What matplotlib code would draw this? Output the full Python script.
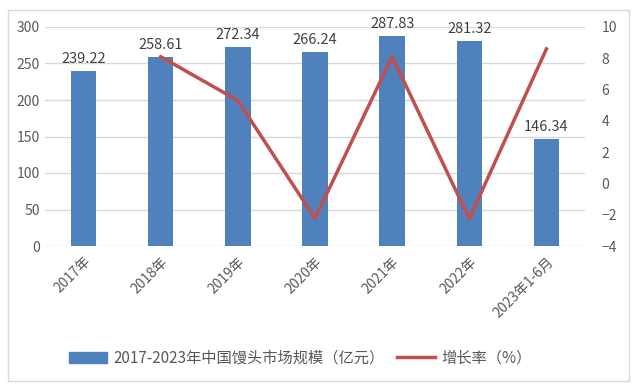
import numpy as np
import matplotlib.pyplot as plt
from matplotlib.patches import Rectangle
from matplotlib.lines import Line2D

plt.rcParams['font.family'] = ['Noto Sans CJK SC', 'DejaVu Sans']

years = ['2017年', '2018年', '2019年', '2020年', '2021年', '2022年', '2023年1-6月']
scale = [239.22, 258.61, 272.34, 266.24, 287.83, 281.32, 146.34]
growth = [np.nan, 8.1, 5.3, -2.24, 8.11, -2.26, 8.6]

bar_color = '#4F81BD'
line_color = '#C0504D'
txt = '#595959'

fig = plt.figure(figsize=(6.39, 3.9), dpi=100)
fig.patches.append(Rectangle((8 / 639, 1 - 381 / 390), 621 / 639, 371 / 390,
                             transform=fig.transFigure, fill=False,
                             edgecolor='#d9d9d9', linewidth=1))
ax = fig.add_axes([45 / 639, 1 - 246 / 390, 540 / 639, 219 / 390])
x = np.arange(len(years))
ax.bar(x, scale, width=0.33, color=bar_color, zorder=2)
for xi, v in zip(x, scale):
    ax.text(xi, v + 7, f'{v:.2f}', ha='center', va='bottom', fontsize=10.5, color='#404040')

ax.set_xlim(-0.5, len(years) - 0.5)
ax.set_ylim(0, 300)
ax.set_yticks(range(0, 301, 50))
ax.grid(axis='y', color='#d9d9d9', linewidth=1, zorder=0)
ax.set_axisbelow(True)
for s in ax.spines.values():
    s.set_visible(False)
ax.tick_params(length=0, labelsize=10, colors=txt)
ax.set_xticks(x)
ax.set_xticklabels(years, rotation=45, ha='right', rotation_mode='anchor')
ax.tick_params(axis='x', pad=6)

ax2 = ax.twinx()
ax2.plot(x, growth, color=line_color, linewidth=2.5, zorder=3)
ax2.set_ylim(-4, 10)
ax2.set_yticks(range(-4, 11, 2))
for s in ax2.spines.values():
    s.set_visible(False)
ax2.tick_params(length=0, labelsize=10, colors=txt, pad=12)

handles = [Rectangle((0, 0), 1, 1, color=bar_color),
           Line2D([0], [0], color=line_color, linewidth=2.5)]
fig.legend(handles, ['2017-2023年中国馒头市场规模（亿元）', '增长率（%）'],
           loc='center', bbox_to_anchor=(0.47, 1 - 358 / 390), ncol=2, frameon=False,
           fontsize=11, labelcolor=txt, handlelength=2.5, columnspacing=0.8,
           handletextpad=0.4)

fig.savefig('out.png', dpi=100)
